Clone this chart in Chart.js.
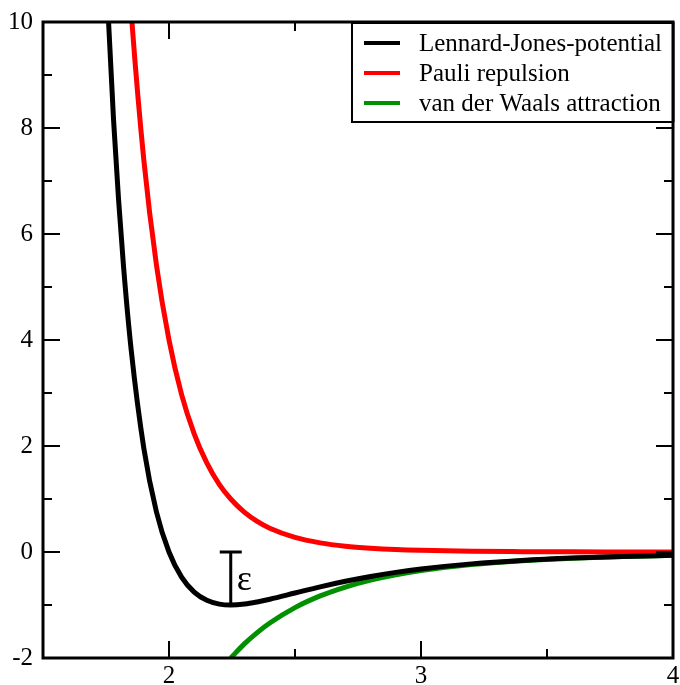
<!DOCTYPE html>
<html>
<head>
<meta charset="utf-8">
<script src="https://cdn.jsdelivr.net/npm/chart.js@4.4.1/dist/chart.umd.min.js"></script>
<style>
  body { margin: 0; background: #fff; }
  #wrap { width: 680px; height: 685px; }
</style>
</head>
<body>
<div id="wrap"><canvas id="myChart" width="680" height="685"></canvas></div>
<script>
// distance r and the three curves
const rValues = [1.72, 1.75, 1.78, 1.8, 1.82, 1.85, 1.9, 1.95, 2.0, 2.05, 2.1, 2.15, 2.2, 2.245, 2.3, 2.35, 2.4, 2.5, 2.6, 2.7, 2.8, 2.9, 3.0, 3.2, 3.4, 3.6, 3.8, 4.0];
const ljValues = [14.55, 10.95, 8.15, 6.64, 5.36, 3.81, 1.96, 0.76, 0, -0.475, -0.758, -0.912, -0.983, -1.0, -0.982, -0.942, -0.891, -0.774, -0.657, -0.552, -0.461, -0.384, -0.32, -0.224, -0.159, -0.114, -0.083, -0.062];
const pauliValues = [24.44, 19.86, 16.19, 14.16, 12.4, 10.19, 7.4, 5.42, 4.0, 2.97, 2.23, 1.68, 1.27, 1.0, 0.748, 0.578, 0.449, 0.275, 0.172, 0.109, 0.071, 0.046, 0.031, 0.014, 0.007, 0.003, 0.002, 0.001];
const vdwR = [2.245, 2.3, 2.35, 2.4, 2.5, 2.6, 2.7, 2.8, 2.9, 3.0, 3.2, 3.4, 3.6, 3.8, 4.0];
const vdwValues = [-2.0, -1.729, -1.52, -1.34, -1.049, -0.829, -0.661, -0.531, -0.43, -0.351, -0.238, -0.166, -0.118, -0.085, -0.0625];

const seriesLabels = ['Lennard-Jones-potential', 'Pauli repulsion', 'van der Waals attraction'];
const seriesColors = ['#000000', '#ff0000', '#009000'];

// axis ticks
const xMajor = [2, 3, 4];
const xMinor = [2.5, 3.5];
const yMajor = [-2, 0, 2, 4, 6, 8, 10];
const yMinor = [-1, 1, 3, 5, 7, 9];

// epsilon marker: well depth between 0 and minimum
const epsX = 2.245;
const epsTop = 0;
const epsBottom = -1.0;

const toXY = (xs, ys) => xs.map((x, i) => ({x: x, y: ys[i]}));

const serif = '"Liberation Serif", "DejaVu Serif", serif';

const framePlugin = {
  id: 'frame',
  afterDatasetsDraw(chart) {
    const ctx = chart.ctx;
    const a = chart.chartArea;
    const xs = chart.scales.x, ys = chart.scales.y;
    ctx.save();
    ctx.strokeStyle = '#000';

    // inward ticks on all four sides
    ctx.lineWidth = 2;
    ctx.beginPath();
    const tickX = (v, len) => {
      const p = xs.getPixelForValue(v);
      ctx.moveTo(p, a.bottom); ctx.lineTo(p, a.bottom - len);
      ctx.moveTo(p, a.top); ctx.lineTo(p, a.top + len);
    };
    const tickY = (v, len) => {
      const p = ys.getPixelForValue(v);
      ctx.moveTo(a.left, p); ctx.lineTo(a.left + len, p);
      ctx.moveTo(a.right, p); ctx.lineTo(a.right - len, p);
    };
    xMajor.forEach(v => tickX(v, 17));
    xMinor.forEach(v => tickX(v, 9));
    yMajor.forEach(v => tickY(v, 17));
    yMinor.forEach(v => tickY(v, 9));
    ctx.stroke();

    // epsilon marker
    ctx.lineWidth = 3;
    const ex = xs.getPixelForValue(epsX);
    const et = ys.getPixelForValue(epsTop);
    const eb = ys.getPixelForValue(epsBottom);
    ctx.beginPath();
    ctx.moveTo(ex, et); ctx.lineTo(ex, eb);
    ctx.moveTo(ex - 11, et); ctx.lineTo(ex + 11, et);
    ctx.stroke();
    ctx.fillStyle = '#000';
    ctx.font = '36px ' + serif;
    ctx.textAlign = 'left';
    ctx.textBaseline = 'middle';
    ctx.fillText('ε', ex + 6, (et + eb) / 2 + 2);

    // frame
    ctx.lineWidth = 3;
    ctx.strokeRect(a.left, a.top, a.right - a.left, a.bottom - a.top);

    // legend box
    const bx = 352, by = a.top + 1, bw = a.right - 352, bh = 99;
    ctx.fillStyle = '#fff';
    ctx.fillRect(bx, by, bw, bh);
    ctx.lineWidth = 2;
    ctx.strokeRect(bx, by, bw, bh);
    ctx.lineWidth = 3;
    ctx.beginPath();
    ctx.moveTo(a.right, a.top); ctx.lineTo(a.right, by + bh);
    ctx.stroke();
    ctx.font = '25px ' + serif;
    ctx.textBaseline = 'middle';
    seriesLabels.forEach((label, i) => {
      const y = by + 20 + i * 30;
      ctx.strokeStyle = seriesColors[i];
      ctx.lineWidth = 4;
      ctx.beginPath();
      ctx.moveTo(364, y); ctx.lineTo(400, y);
      ctx.stroke();
      ctx.fillStyle = '#000';
      ctx.fillText(label, 419, y + 1);
    });
    ctx.restore();
  }
};

const data = {
  datasets: [
    { label: seriesLabels[0], data: toXY(rValues, ljValues), borderColor: seriesColors[0] },
    { label: seriesLabels[1], data: toXY(rValues, pauliValues), borderColor: seriesColors[1] },
    { label: seriesLabels[2], data: toXY(vdwR, vdwValues), borderColor: seriesColors[2] }
  ].map(d => Object.assign(d, {
    borderWidth: 5,
    pointRadius: 0,
    fill: false,
    cubicInterpolationMode: 'monotone'
  }))
};

const config = {
  type: 'line',
  data: data,
  options: {
    responsive: false,
    animation: false,
    layout: { padding: { top: 22, right: 7, left: 0, bottom: 0 } },
    plugins: {
      legend: { display: false },
      tooltip: { enabled: false }
    },
    scales: {
      x: {
        type: 'linear',
        min: 1.5,
        max: 4,
        afterBuildTicks: s => { s.ticks = xMajor.map(v => ({value: v})); },
        afterFit: s => { s.height = 27; s.paddingRight = 0; s.paddingLeft = 0; },
        grid: { display: false, drawTicks: false },
        border: { display: false },
        ticks: { color: '#000', font: { family: serif, size: 25, lineHeight: 1 }, padding: 6, maxRotation: 0 }
      },
      y: {
        type: 'linear',
        min: -2,
        max: 10,
        afterBuildTicks: s => { s.ticks = yMajor.map(v => ({value: v})); },
        afterFit: s => { s.width = 43; s.paddingTop = 0; s.paddingBottom = 0; },
        grid: { display: false, drawTicks: false },
        border: { display: false },
        ticks: { color: '#000', font: { family: serif, size: 25, lineHeight: 1 }, padding: 10 }
      }
    }
  },
  plugins: [framePlugin]
};

const myChart = new Chart(document.getElementById('myChart'), config);
</script>
</body>
</html>
